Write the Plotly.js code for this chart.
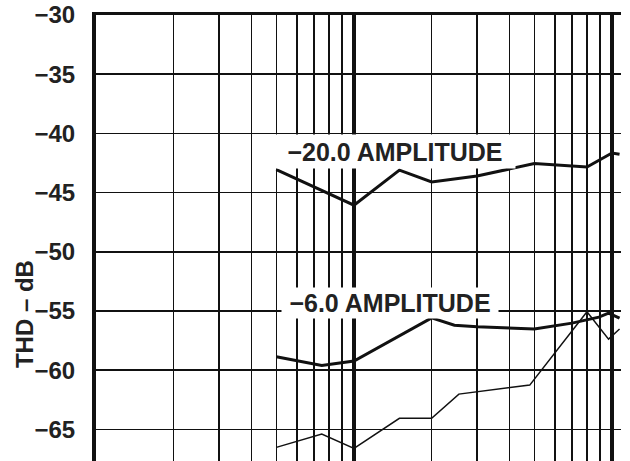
<!DOCTYPE html>
<html>
<head>
<meta charset="utf-8">
<script src="https://cdn.plot.ly/plotly-3.0.1.min.js"></script>
<style>html,body{margin:0;padding:0;background:#fff;}#chart{width:630px;height:461px;}</style>
</head>
<body>
<div id="chart"></div>
<script>
// Frequency (relative units, log axis) and THD (dB)
const freqAmp20 = [5, 10, 15, 20, 30, 50, 80, 100, 107];
const thdAmp20  = [-43.05, -46.06, -43.1, -44.09, -43.6, -42.54, -42.83, -41.65, -41.76];

const freqAmp6 = [5, 7.5, 10, 20, 24.5, 30, 50, 70, 89, 97, 107];
const thdAmp6  = [-58.86, -59.6, -59.22, -55.57, -56.19, -56.33, -56.52, -56.02, -55.51, -55.17, -55.59];

const freqThin = [5, 7.5, 10, 15, 20, 25.5, 48, 80, 97, 107];
const thdThin  = [-66.51, -65.39, -66.59, -64.06, -64.06, -62.01, -61.25, -55.06, -57.37, -56.52];

const yTickVals  = [-30, -35, -40, -45, -50, -55, -60, -65];
const yTickText  = ['\u221230', '\u221235', '\u221240', '\u221245', '\u221250', '\u221255', '\u221260', '\u221265'];
const labelAmp20 = '\u221220.0 AMPLITUDE';
const labelAmp6  = '\u22126.0 AMPLITUDE';
const yTitle     = 'THD \u2013 dB';

const ink = '#111111';
const FONT = 'Liberation Sans, Arial, Helvetica, sans-serif';

const traces = [
  {x: freqAmp20, y: thdAmp20, mode: 'lines', line: {color: ink, width: 3}, hoverinfo: 'skip'},
  {x: freqAmp6, y: thdAmp6, mode: 'lines', line: {color: ink, width: 3}, hoverinfo: 'skip'},
  {x: freqThin, y: thdThin, mode: 'lines', line: {color: ink, width: 1.5}, hoverinfo: 'skip'}
];

const W = 630, H = 461, L = 96, R = 621, T = 14.7, B = 461;
const px = v => (v - L) / (R - L);
const py = v => (B - v) / (B - T);

const layout = {
  width: W, height: H,
  margin: {l: L, r: W - R, t: T, b: 0, pad: 0},
  paper_bgcolor: '#fff', plot_bgcolor: '#fff',
  showlegend: false,
  font: {family: FONT, color: '#222', size: 24},
  xaxis: {
    type: 'log', range: [0, 2.035], side: 'top',
    showticklabels: false, ticks: '',
    showline: true, linecolor: ink, linewidth: 3.5,
    showgrid: true, dtick: 1, gridcolor: ink, gridwidth: 3.5,
    minor: {dtick: 'D1', showgrid: true, gridcolor: ink, gridwidth: 1.6, ticks: ''},
    zeroline: false, fixedrange: true
  },
  yaxis: {
    range: [-67.66, -30],
    tickvals: yTickVals, ticktext: yTickText,
    tickfont: {family: FONT, size: 24, color: '#222', weight: 'bold'},
    ticks: 'outside', ticklen: 12, tickcolor: 'rgba(0,0,0,0)', tickwidth: 0,
    showline: true, linecolor: ink, linewidth: 4,
    showgrid: true, gridcolor: ink, gridwidth: 1.6,
    zeroline: false, fixedrange: true
  },
  annotations: [
    {xref: 'paper', yref: 'paper', x: px(395), y: py(151.5), xanchor: 'center', yanchor: 'middle',
     text: labelAmp20, showarrow: false, bgcolor: '#fff', borderpad: 0, width: 240, height: 33,
     font: {family: FONT, size: 25, color: '#222', weight: 'bold'}},
    {xref: 'paper', yref: 'paper', x: px(390), y: py(303), xanchor: 'center', yanchor: 'middle',
     text: labelAmp6, showarrow: false, bgcolor: '#fff', borderpad: 0, width: 216, height: 30,
     font: {family: FONT, size: 25, color: '#222', weight: 'bold'}},
    {xref: 'paper', yref: 'paper', x: px(24), y: py(314), xanchor: 'center', yanchor: 'middle',
     text: yTitle, showarrow: false, textangle: -90,
     font: {family: FONT, size: 24, color: '#222', weight: 'bold'}}
  ]
};

Plotly.newPlot('chart', traces, layout, {staticPlot: true, displayModeBar: false});
</script>
</body>
</html>
